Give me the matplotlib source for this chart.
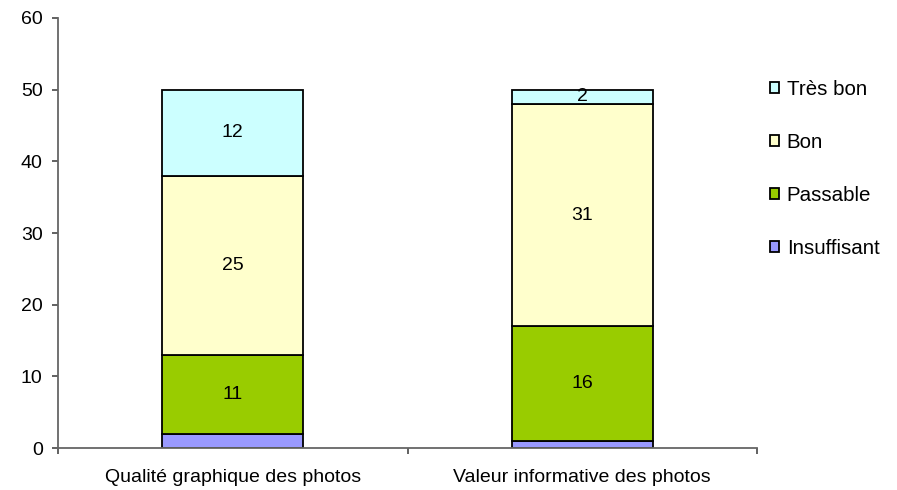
import numpy as np
import matplotlib.pyplot as plt

plt.rcParams['font.family'] = ['Liberation Sans', 'DejaVu Sans']

categories = ['Qualité graphique des photos', 'Valeur informative des photos']
series = ['Insuffisant', 'Passable', 'Bon', 'Très bon']
values = {
    'Insuffisant': [2, 1],
    'Passable': [11, 16],
    'Bon': [25, 31],
    'Très bon': [12, 2],
}
colors = {
    'Insuffisant': '#9999FF',
    'Passable': '#99CC00',
    'Bon': '#FFFFCC',
    'Très bon': '#CCFFFF',
}
show_label = {'Insuffisant': False, 'Passable': True, 'Bon': True, 'Très bon': True}

fnt = 14
fig = plt.figure(figsize=(8.97, 4.9), dpi=100)
ax = fig.add_axes([58/897, 42/490, 699/897, 430/490])

x = np.arange(1, len(categories) + 1)
bottom = np.zeros(len(categories))
handles = []
for s in series:
    v = np.array(values[s], dtype=float)
    b = ax.bar(x, v, 0.404, bottom=bottom, color=colors[s], edgecolor='black', linewidth=1.3, label=s)
    handles.append(b)
    if show_label[s]:
        for xi, vi, bi in zip(x, v, bottom):
            ax.text(xi, bi + vi / 2, '%d' % vi, ha='center', va='center', fontsize=fnt)
    bottom += v

ax.set_xlim(0.5, 2.5)
ax.set_ylim(0, 60)
ax.set_yticks(range(0, 61, 10))
ax.set_xticks([0.5, 1.5, 2.5], minor=False)
ax.set_xticklabels([])
ax.set_xticks(x, minor=True)
ax.set_xticklabels(categories, minor=True, fontsize=fnt)
ax.tick_params(axis='x', which='minor', length=0, pad=15)
ax.tick_params(axis='x', which='major', length=4, width=1.3, color='#555555', direction='out')
ax.tick_params(axis='y', length=4, width=1.3, color='#555555', labelsize=fnt, pad=7)
for side in ['top', 'right']:
    ax.spines[side].set_visible(False)
for side in ['left', 'bottom']:
    ax.spines[side].set_color('#666666')
    ax.spines[side].set_linewidth(1.3)

leg = fig.legend(handles[::-1], series[::-1], loc='center left', bbox_to_anchor=(0.838, 0.655),
                 frameon=False, fontsize=14.8, labelspacing=1.65, handlelength=0.45, handleheight=0.45,
                 handletextpad=0.35)

fig.savefig('out.png', dpi=100)
